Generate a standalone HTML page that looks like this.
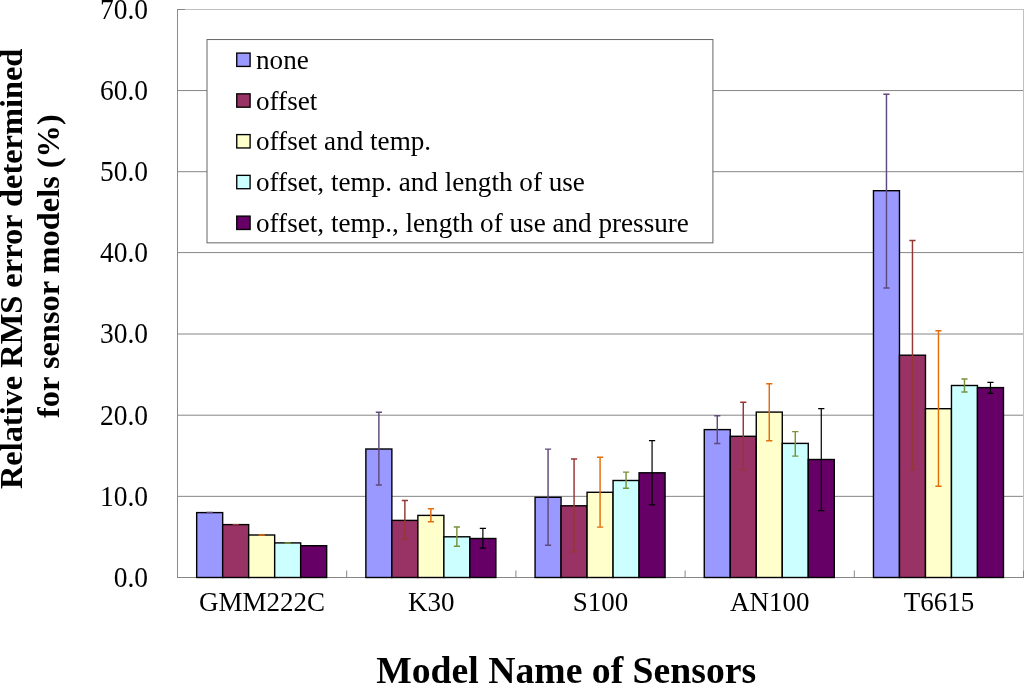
<!DOCTYPE html>
<html><head><meta charset="utf-8"><title>Chart</title>
<style>html,body{margin:0;padding:0;background:#fff;overflow:hidden}svg{display:block;will-change:transform}text{font-family:"Liberation Serif","Times New Roman",serif;fill:#000}</style></head><body>
<svg width="1024" height="684" viewBox="0 0 1024 684">
<rect width="1024" height="684" fill="#fff"/>
<line x1="177.5" x2="1024.0" y1="496.35" y2="496.35" stroke="#868686" stroke-width="1"/>
<line x1="177.5" x2="1024.0" y1="415.20" y2="415.20" stroke="#868686" stroke-width="1"/>
<line x1="177.5" x2="1024.0" y1="334.00" y2="334.00" stroke="#868686" stroke-width="1"/>
<line x1="177.5" x2="1024.0" y1="252.60" y2="252.60" stroke="#868686" stroke-width="1"/>
<line x1="177.5" x2="1024.0" y1="171.70" y2="171.70" stroke="#868686" stroke-width="1"/>
<line x1="177.5" x2="1024.0" y1="90.55" y2="90.55" stroke="#868686" stroke-width="1"/>
<line x1="177.5" x2="1024.0" y1="9.50" y2="9.50" stroke="#c0c0c0" stroke-width="1"/>
<line x1="1023.5" x2="1023.5" y1="9.5" y2="577.5" stroke="#c0c0c0" stroke-width="1"/>
<line x1="177.5" x2="177.5" y1="9.5" y2="577.5" stroke="#8c8c8c" stroke-width="1"/>
<line x1="177.0" x2="1024.0" y1="577.5" y2="577.5" stroke="#868686" stroke-width="1"/>
<line x1="177.0" x2="185.0" y1="9.5" y2="9.5" stroke="#868686" stroke-width="1"/>
<line x1="346.7" x2="346.7" y1="570.5" y2="577.5" stroke="#868686" stroke-width="1"/>
<line x1="515.9" x2="515.9" y1="570.5" y2="577.5" stroke="#868686" stroke-width="1"/>
<line x1="685.1" x2="685.1" y1="570.5" y2="577.5" stroke="#868686" stroke-width="1"/>
<line x1="854.3" x2="854.3" y1="570.5" y2="577.5" stroke="#868686" stroke-width="1"/>
<line x1="1023.5" x2="1023.5" y1="570.5" y2="577.5" stroke="#868686" stroke-width="1"/>
<rect x="196.67" y="512.60" width="26.00" height="64.90" fill="#9999FF" stroke="#000" stroke-width="1.4"/>
<rect x="222.67" y="524.60" width="26.00" height="52.90" fill="#993366" stroke="#000" stroke-width="1.4"/>
<rect x="248.67" y="535.00" width="26.00" height="42.50" fill="#FFFFCC" stroke="#000" stroke-width="1.4"/>
<rect x="274.67" y="542.90" width="26.00" height="34.60" fill="#CCFFFF" stroke="#000" stroke-width="1.4"/>
<rect x="300.67" y="545.70" width="26.00" height="31.80" fill="#660066" stroke="#000" stroke-width="1.4"/>
<rect x="365.87" y="449.00" width="26.00" height="128.50" fill="#9999FF" stroke="#000" stroke-width="1.4"/>
<rect x="391.87" y="520.40" width="26.00" height="57.10" fill="#993366" stroke="#000" stroke-width="1.4"/>
<rect x="417.87" y="515.40" width="26.00" height="62.10" fill="#FFFFCC" stroke="#000" stroke-width="1.4"/>
<rect x="443.87" y="536.80" width="26.00" height="40.70" fill="#CCFFFF" stroke="#000" stroke-width="1.4"/>
<rect x="469.87" y="538.50" width="26.00" height="39.00" fill="#660066" stroke="#000" stroke-width="1.4"/>
<rect x="535.07" y="497.30" width="26.00" height="80.20" fill="#9999FF" stroke="#000" stroke-width="1.4"/>
<rect x="561.07" y="505.80" width="26.00" height="71.70" fill="#993366" stroke="#000" stroke-width="1.4"/>
<rect x="587.07" y="492.30" width="26.00" height="85.20" fill="#FFFFCC" stroke="#000" stroke-width="1.4"/>
<rect x="613.07" y="480.50" width="26.00" height="97.00" fill="#CCFFFF" stroke="#000" stroke-width="1.4"/>
<rect x="639.07" y="472.80" width="26.00" height="104.70" fill="#660066" stroke="#000" stroke-width="1.4"/>
<rect x="704.27" y="429.60" width="26.00" height="147.90" fill="#9999FF" stroke="#000" stroke-width="1.4"/>
<rect x="730.27" y="436.30" width="26.00" height="141.20" fill="#993366" stroke="#000" stroke-width="1.4"/>
<rect x="756.27" y="412.10" width="26.00" height="165.40" fill="#FFFFCC" stroke="#000" stroke-width="1.4"/>
<rect x="782.27" y="443.40" width="26.00" height="134.10" fill="#CCFFFF" stroke="#000" stroke-width="1.4"/>
<rect x="808.27" y="459.50" width="26.00" height="118.00" fill="#660066" stroke="#000" stroke-width="1.4"/>
<rect x="873.47" y="190.70" width="26.00" height="386.80" fill="#9999FF" stroke="#000" stroke-width="1.4"/>
<rect x="899.47" y="355.20" width="26.00" height="222.30" fill="#993366" stroke="#000" stroke-width="1.4"/>
<rect x="925.47" y="408.70" width="26.00" height="168.80" fill="#FFFFCC" stroke="#000" stroke-width="1.4"/>
<rect x="951.47" y="385.50" width="26.00" height="192.00" fill="#CCFFFF" stroke="#000" stroke-width="1.4"/>
<rect x="977.47" y="387.60" width="26.00" height="189.90" fill="#660066" stroke="#000" stroke-width="1.4"/>
<path d="M209.67 512.60V512.60M206.57 512.60H212.77M206.57 512.60H212.77" stroke="#604A7B" stroke-width="1.45" fill="none"/>
<path d="M235.67 524.60V524.60M232.57 524.60H238.77M232.57 524.60H238.77" stroke="#953735" stroke-width="1.45" fill="none"/>
<path d="M261.67 535.00V535.00M258.57 535.00H264.77M258.57 535.00H264.77" stroke="#E46C0A" stroke-width="1.45" fill="none"/>
<path d="M287.67 542.90V542.90M284.57 542.90H290.77M284.57 542.90H290.77" stroke="#77933C" stroke-width="1.45" fill="none"/>
<path d="M313.67 545.70V545.70M310.57 545.70H316.77M310.57 545.70H316.77" stroke="#000000" stroke-width="1.2" fill="none"/>
<path d="M378.87 412.30V485.00M375.77 412.30H381.97M375.77 485.00H381.97" stroke="#604A7B" stroke-width="1.45" fill="none"/>
<path d="M404.87 500.50V539.40M401.77 500.50H407.97M401.77 539.40H407.97" stroke="#953735" stroke-width="1.45" fill="none"/>
<path d="M430.87 508.70V521.70M427.77 508.70H433.97M427.77 521.70H433.97" stroke="#E46C0A" stroke-width="1.45" fill="none"/>
<path d="M456.87 527.00V546.30M453.77 527.00H459.97M453.77 546.30H459.97" stroke="#77933C" stroke-width="1.45" fill="none"/>
<path d="M482.87 528.40V548.20M479.77 528.40H485.97M479.77 548.20H485.97" stroke="#000000" stroke-width="1.2" fill="none"/>
<path d="M548.07 449.10V545.20M544.97 449.10H551.17M544.97 545.20H551.17" stroke="#604A7B" stroke-width="1.45" fill="none"/>
<path d="M574.07 459.00V551.70M570.97 459.00H577.17M570.97 551.70H577.17" stroke="#953735" stroke-width="1.45" fill="none"/>
<path d="M600.07 457.30V527.10M596.97 457.30H603.17M596.97 527.10H603.17" stroke="#E46C0A" stroke-width="1.45" fill="none"/>
<path d="M626.07 472.10V488.30M622.97 472.10H629.17M622.97 488.30H629.17" stroke="#77933C" stroke-width="1.45" fill="none"/>
<path d="M652.07 440.60V504.90M648.97 440.60H655.17M648.97 504.90H655.17" stroke="#000000" stroke-width="1.2" fill="none"/>
<path d="M717.27 415.80V443.40M714.17 415.80H720.37M714.17 443.40H720.37" stroke="#604A7B" stroke-width="1.45" fill="none"/>
<path d="M743.27 402.30V469.60M740.17 402.30H746.37M740.17 469.60H746.37" stroke="#953735" stroke-width="1.45" fill="none"/>
<path d="M769.27 383.80V440.70M766.17 383.80H772.37M766.17 440.70H772.37" stroke="#E46C0A" stroke-width="1.45" fill="none"/>
<path d="M795.27 431.60V456.10M792.17 431.60H798.37M792.17 456.10H798.37" stroke="#77933C" stroke-width="1.45" fill="none"/>
<path d="M821.27 408.70V510.60M818.17 408.70H824.37M818.17 510.60H824.37" stroke="#000000" stroke-width="1.2" fill="none"/>
<path d="M886.47 94.20V288.00M883.37 94.20H889.57M883.37 288.00H889.57" stroke="#604A7B" stroke-width="1.45" fill="none"/>
<path d="M912.47 240.50V469.60M909.37 240.50H915.57M909.37 469.60H915.57" stroke="#953735" stroke-width="1.45" fill="none"/>
<path d="M938.47 330.70V486.20M935.37 330.70H941.57M935.37 486.20H941.57" stroke="#E46C0A" stroke-width="1.45" fill="none"/>
<path d="M964.47 378.90V392.00M961.37 378.90H967.57M961.37 392.00H967.57" stroke="#77933C" stroke-width="1.45" fill="none"/>
<path d="M990.47 382.40V393.30M987.37 382.40H993.57M987.37 393.30H993.57" stroke="#000000" stroke-width="1.2" fill="none"/>
<text transform="translate(148 586.80) scale(1 1.035)" font-size="27.5" text-anchor="end">0.0</text>
<text transform="translate(148 505.65) scale(1 1.035)" font-size="27.5" text-anchor="end">10.0</text>
<text transform="translate(148 424.50) scale(1 1.035)" font-size="27.5" text-anchor="end">20.0</text>
<text transform="translate(148 343.30) scale(1 1.035)" font-size="27.5" text-anchor="end">30.0</text>
<text transform="translate(148 261.90) scale(1 1.035)" font-size="27.5" text-anchor="end">40.0</text>
<text transform="translate(148 181.00) scale(1 1.035)" font-size="27.5" text-anchor="end">50.0</text>
<text transform="translate(148 99.85) scale(1 1.035)" font-size="27.5" text-anchor="end">60.0</text>
<text transform="translate(148 18.80) scale(1 1.035)" font-size="27.5" text-anchor="end">70.0</text>
<text x="262.1" y="610.7" font-size="27" text-anchor="middle">GMM222C</text>
<text x="431.3" y="610.7" font-size="27" text-anchor="middle">K30</text>
<text x="600.5" y="610.7" font-size="27" text-anchor="middle">S100</text>
<text x="769.7" y="610.7" font-size="27" text-anchor="middle">AN100</text>
<text x="938.9" y="610.7" font-size="27" text-anchor="middle">T6615</text>
<rect x="207" y="39.55" width="505.9" height="203.3" fill="#fff" stroke="#666" stroke-width="1"/>
<rect x="236.75" y="53.08" width="13.35" height="13.35" fill="#9999FF" stroke="#000" stroke-width="1.35"/>
<text x="256.0" y="68.90" font-size="27.15">none</text>
<rect x="236.75" y="93.84" width="13.35" height="13.35" fill="#993366" stroke="#000" stroke-width="1.35"/>
<text x="256.0" y="109.66" font-size="27.15">offset</text>
<rect x="236.75" y="134.60" width="13.35" height="13.35" fill="#FFFFCC" stroke="#000" stroke-width="1.35"/>
<text x="256.0" y="150.42" font-size="27.15">offset and temp.</text>
<rect x="236.75" y="175.36" width="13.35" height="13.35" fill="#CCFFFF" stroke="#000" stroke-width="1.35"/>
<text x="256.0" y="191.18" font-size="27.15">offset, temp. and length of use</text>
<rect x="236.75" y="216.12" width="13.35" height="13.35" fill="#660066" stroke="#000" stroke-width="1.35"/>
<text x="256.0" y="231.94" font-size="27.15">offset, temp., length of use and pressure</text>
<text x="566.2" y="683.2" font-size="37.7" font-weight="bold" text-anchor="middle">Model Name of Sensors</text>
<text transform="translate(21.9 268.9) rotate(-90)" font-size="32.4" font-weight="bold" text-anchor="middle">Relative RMS error determined</text>
<text transform="translate(59.3 266.1) rotate(-90)" font-size="32.4" font-weight="bold" text-anchor="middle">for sensor models (%)</text>
</svg></body></html>
